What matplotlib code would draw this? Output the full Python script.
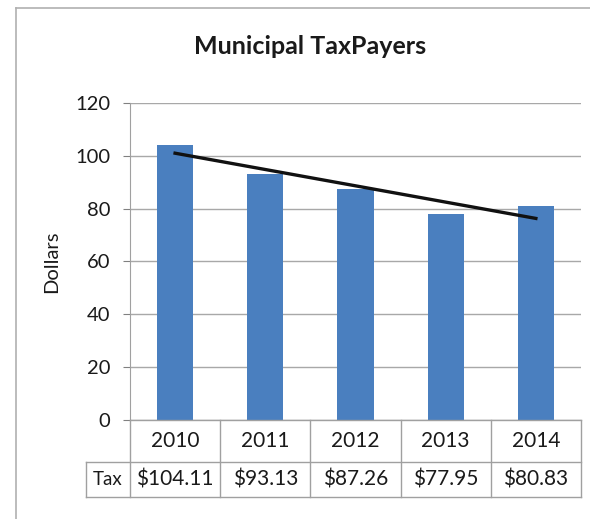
import matplotlib.pyplot as plt
import numpy as np
from matplotlib.lines import Line2D
from matplotlib.transforms import blended_transform_factory

years = ['2010', '2011', '2012', '2013', '2014']
tax = [104.11, 93.13, 87.26, 77.95, 80.83]
tax_labels = ['$104.11', '$93.13', '$87.26', '$77.95', '$80.83']
row_label = 'Tax'
yticks = [0, 20, 40, 60, 80, 100, 120]

plt.rcParams['font.family'] = ['Lato', 'DejaVu Sans']

fig = plt.figure(figsize=(5.90, 5.19), dpi=100)
ax = fig.add_axes([0.2203, 0.1908, 0.7644, 0.6107])

x = np.arange(len(years))
ax.bar(x, tax, width=0.4, color='#4a7fbf', zorder=2)

# linear trend line
coef = np.polyfit(x, tax, 1)
ax.plot(x[[0, -1]], np.polyval(coef, x[[0, -1]]), color='#111111', lw=2.4, zorder=3)

ax.set_xlim(-0.5, len(years) - 0.5)
ax.set_ylim(0, 120)
ax.set_yticks(yticks)
ax.set_xticks([])
ax.yaxis.grid(True, color='#a8a8a8', lw=1.0, zorder=0)
for s in ['top', 'right', 'bottom']:
    ax.spines[s].set_visible(False)
ax.spines['left'].set_color('#a0a0a0')
ax.tick_params(axis='y', length=5, color='#808080', labelsize=14.5, pad=9, labelcolor='#1a1a1a')
ax.set_ylabel('Dollars', fontsize=14.5, color='#1a1a1a', va='center')
ax.yaxis.set_label_coords(-(130 - 52) / 451, 0.5)
fig.text(310 / 590, 1 - 47 / 519, 'Municipal TaxPayers', ha='center', va='center',
         fontsize=18, fontweight='bold', color='#1a1a1a')

# data table below the plot
tr = blended_transform_factory(ax.transData, ax.transAxes)
row_top, row_mid, row_bot = 0.0, -0.1325, -0.243
label_left = -0.5 - 44 / 90
lc = '#a0a0a0'
edges = np.arange(len(years) + 1) - 0.5
for e in edges:
    ax.add_line(Line2D([e, e], [row_bot, row_top], transform=tr, color=lc, lw=1, clip_on=False))
ax.add_line(Line2D([label_left, label_left], [row_bot, row_mid], transform=tr, color=lc, lw=1, clip_on=False))
ax.add_line(Line2D([edges[0], edges[-1]], [row_top, row_top], transform=tr, color=lc, lw=1, clip_on=False))
for yy in [row_mid, row_bot]:
    ax.add_line(Line2D([label_left, edges[-1]], [yy, yy], transform=tr, color=lc, lw=1, clip_on=False))
for i, (yr, lab) in enumerate(zip(years, tax_labels)):
    ax.text(i, (row_top + row_mid) / 2, yr, transform=tr, ha='center', va='center', fontsize=15, color='#1a1a1a')
    ax.text(i, (row_mid + row_bot) / 2, lab, transform=tr, ha='center', va='center', fontsize=15, color='#1a1a1a')
ax.text((label_left + edges[0]) / 2, (row_mid + row_bot) / 2, row_label, transform=tr,
        ha='center', va='center', fontsize=13.5, color='#1a1a1a')

# chart area border (left and top visible)
fig.add_artist(Line2D([16 / 590, 16 / 590], [0, 1 - 8 / 519], transform=fig.transFigure, color='#b0b0b0', lw=1.2))
fig.add_artist(Line2D([16 / 590, 1], [1 - 8 / 519, 1 - 8 / 519], transform=fig.transFigure, color='#b0b0b0', lw=1.2))

fig.savefig('out.png', dpi=100, facecolor='white')
